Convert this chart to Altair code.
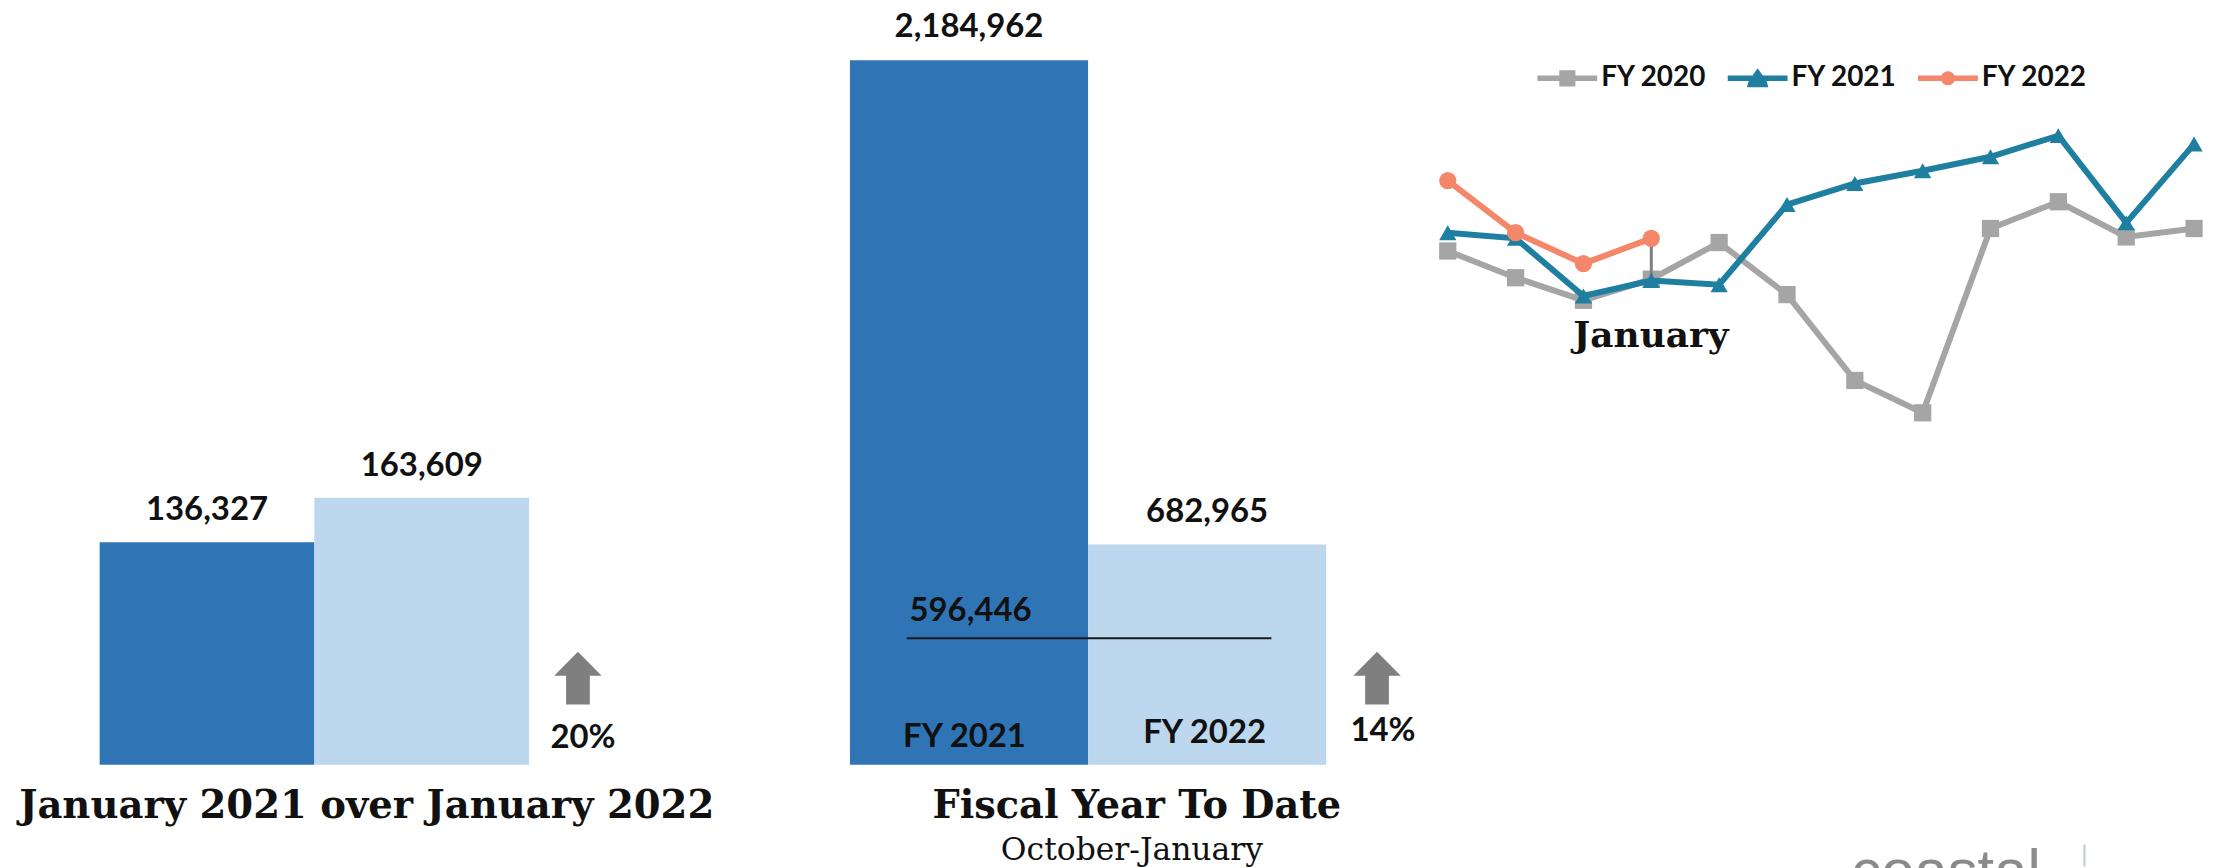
import altair as alt
import pandas as pd

SANS = "Lato"
SLAB = "DejaVu Serif"

# Bars
jan_years = ["January 2021", "January 2022"]
jan_values = [136327, 163609]
ytd_years = ["FY 2021", "FY 2022"]
ytd_values = [2184962, 682965]
bar_dark = "#2F75B5"
bar_light = "#BDD7EE"

# Line chart (no axis in the source: values are relative units)
months = ["Oct", "Nov", "Dec", "Jan", "Feb", "Mar", "Apr", "May", "Jun", "Jul", "Aug", "Sep"]
fy2020 = [123, 104, 88, 103, 129, 92, 31, 8, 139, 158, 133, 139]
fy2021 = [136, 132, 91, 102, 99, 156, 171, 180, 190, 205, 143, 199]
fy2022 = [173, 136, 114, 132]
series_names = ["FY 2020", "FY 2021", "FY 2022"]
series_colors = ["#A5A5A5", "#1F7FA0", "#F4866A"]

# Chart layout (pixels inside the plot)
W, H = 2208, 860
BASE = 758


def bar_panel(names, values, x_range, top):
    df = pd.DataFrame({"name": names, "value": values})
    x = alt.X("name:N", axis=None, sort=names,
              scale=alt.Scale(domain=names, range=x_range, paddingInner=0, paddingOuter=0))
    y = alt.Y("value:Q", axis=None, scale=alt.Scale(domain=[0, max(values)], range=[BASE, top]))
    bars = alt.Chart(df).mark_bar(size=(x_range[1] - x_range[0]) / 2).encode(
        x=x, y=y,
        color=alt.Color("name:N", legend=None,
                        scale=alt.Scale(domain=names, range=[bar_dark, bar_light])))
    return bars, df, x, y


def label(text, x, y, size=33, font=SANS, weight="bold", color="#111111", align="center"):
    return alt.Chart(pd.DataFrame({"t": [text]})).mark_text(
        font=font, fontSize=size, fontWeight=weight, color=color, align=align, baseline="middle"
    ).encode(text="t:N", x=alt.value(x), y=alt.value(y))


arrow_path = "M0,-1L0.9,-0.09H0.45V1H-0.45V-0.09H-0.9Z"


def arrow(x, y):
    return alt.Chart(pd.DataFrame({"a": [1]})).mark_point(
        shape=arrow_path, filled=True, opacity=1, color="#7F7F7F", size=2800, strokeWidth=0
    ).encode(x=alt.value(x), y=alt.value(y))


layers = []

# Left panel
bars, df, x, y = bar_panel(jan_years, jan_values, [92, 523], 490)
layers.append(bars)
layers.append(alt.Chart(df).mark_text(font=SANS, fontSize=33, fontWeight="bold", color="#111111",
                                      dy=-32, baseline="middle").encode(
    x=x, y=y, text=alt.Text("value:Q", format=",")))
layers += [arrow(572, 671), label("20%", 577, 731),
           label("January 2021 over January 2022", 360, 799, size=38.7, font=SLAB)]

# Middle panel
bars, df, x, y = bar_panel(ytd_years, ytd_values, [845, 1323], 51)
layers.append(bars)
layers.append(alt.Chart(df).mark_text(font=SANS, fontSize=33, fontWeight="bold", color="#111111",
                                      dy=-33, baseline="middle").encode(
    x=x, y=y, text=alt.Text("value:Q", format=",")))
layers += [
    alt.Chart(pd.DataFrame({"a": [1]})).mark_rule(color="#1a1a1a", strokeWidth=2).encode(
        x=alt.value(902), x2=alt.value(1268), y=alt.value(631)),
    label("596,446", 966, 604),
    label("FY 2021", 960, 730), label("FY 2022", 1201, 726),
    arrow(1374, 671), label("14%", 1380, 724),
    label("Fiscal Year To Date", 1133, 799, size=38.4, font=SLAB),
    label("October-January", 1128, 845, size=31.5, font="DejaVu Serif", weight="normal"),
]

# Line panel
rows = []
for name, vals in zip(series_names, [fy2020, fy2021, fy2022]):
    rows += [{"month": m, "value": v, "series": name} for m, v in zip(months, vals)]
line_df = pd.DataFrame(rows)
lx = alt.X("month:N", axis=None, sort=months,
           scale=alt.Scale(domain=months, type="point", range=[1445, 2194], padding=0))
ly = alt.Y("value:Q", axis=None, scale=alt.Scale(domain=[0, 250], range=[416, 63]))
shapes = {"FY 2020": "square", "FY 2021": "triangle-up", "FY 2022": "circle"}
color = alt.Color("series:N", legend=None,
                  scale=alt.Scale(domain=series_names, range=series_colors))

conn_df = pd.DataFrame({"month": ["Jan"], "value": [fy2020[3]], "value2": [fy2022[3]]})
for name in series_names:
    sub = line_df[line_df.series == name]
    layers.append(alt.Chart(sub).mark_line(strokeWidth=6).encode(x=lx, y=ly, color=color))
    if name == "FY 2021":
        layers.insert(-1, alt.Chart(conn_df).mark_rule(color="#7F7F7F", strokeWidth=3).encode(
            x=lx, y=ly, y2="value2:Q"))
    layers.append(alt.Chart(sub).mark_point(filled=True, opacity=1, size=300,
                                            shape=shapes[name]).encode(x=lx, y=ly, color=color))

layers.append(label("January", 1649, 328, size=36, font=SLAB))

# Legend: wing + marker keys on an invisible carrier layer
key_paths = [
    "M-1,-.09H-.27V-.27H.27V-.09H1V.09H.27V.27H-.27V.09H-1Z",
    "M-1,-.09H-.17L0,-.34L.17,-.09H1V.09H.3L.36,.3H-.36L-.3,.09H-1Z",
    "M-1,-.09H-.22A.24,.24 0 0 1 .22,-.09H1V.09H.22A.24,.24 0 0 1 -.22,.09H-1Z",
]
legend_opts = dict(orient="none", legendX=1535, legendY=39, direction="horizontal",
                   title=None, columns=3, symbolOpacity=1, symbolStrokeWidth=0,
                   symbolSize=3600, labelFont=SANS, labelFontSize=28,
                   labelFontWeight="bold", labelColor="#111111", columnPadding=21)
layers.append(alt.Chart(line_df).mark_point(filled=True, opacity=0, size=3600).encode(
    x=lx, y=ly,
    color=alt.Color("series:N", scale=alt.Scale(domain=series_names, range=series_colors),
                    legend=alt.Legend(**legend_opts)),
    shape=alt.Shape("series:N", scale=alt.Scale(domain=series_names, range=key_paths),
                    legend=alt.Legend(**legend_opts)),
))

# Partly cut-off logo at the bottom edge
layers.append(alt.Chart(pd.DataFrame({"t": ["coastal"]})).mark_text(
    font="Liberation Sans", fontSize=60, color="#8A8A8A", align="left", baseline="alphabetic"
).encode(text="t:N", x=alt.value(1850), y=alt.value(885)))
layers.append(alt.Chart(pd.DataFrame({"a": [1]})).mark_rule(color="#B8CCD8", strokeWidth=2).encode(
    x=alt.value(2084), y=alt.value(838), y2=alt.value(860)))

chart = alt.layer(*layers).resolve_scale(
    x="independent", y="independent", color="independent", shape="independent"
).properties(
    width=W, height=H, padding=0, autosize=alt.AutoSizeParams(type="none")
).configure_view(stroke=None)

chart.save("out.html", embed_options={"renderer": "svg", "actions": False})
